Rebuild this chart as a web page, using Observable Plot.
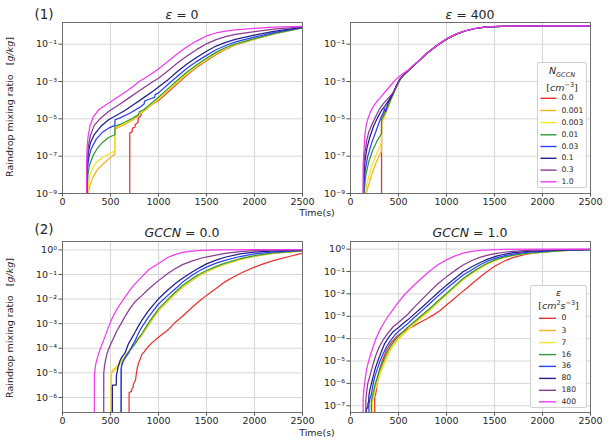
<!DOCTYPE html>
<html><head><meta charset="utf-8">
<script src="https://cdn.jsdelivr.net/npm/d3@7"></script>
<script src="https://cdn.jsdelivr.net/npm/@observablehq/plot@0.6"></script>
<style>
body{margin:0;background:#fff}
#root{position:relative;width:612px;height:447px;background:#fff;font-family:"DejaVu Sans",sans-serif;color:#262626;overflow:hidden}
.c{position:absolute;white-space:nowrap;transform:translate(-50%,-50%);line-height:1}
.yl{position:absolute;white-space:nowrap;transform:translate(-50%,-50%) rotate(-90deg);font-size:9.5px;line-height:1}
.leg{position:absolute;background:rgba(255,255,255,0.85);border:1px solid #d0d0d0;border-radius:2px;box-sizing:border-box}
.ent{position:absolute;font-size:7.6px;line-height:1;white-space:nowrap}
</style></head>
<body><div id="root"></div>
<script>
// ---- categories / labels ----
const N_GCCN = ["0.0","0.001","0.003","0.01","0.03","0.1","0.3","1.0"];
const EPS = ["0","3","7","16","36","80","180","400"];
const COLORS = ["#e8312c","#f2b51c","#eee42a","#31993a","#2f3ff2","#20208c","#8c3a92","#f03cef"];
const X_TICKS = [0,500,1000,1500,2000,2500];
const Y_TICKS_TOP = [1e-9,1e-7,1e-5,1e-3,1e-1];
const Y_TICKS_BL = [1e-6,1e-5,1e-4,1e-3,1e-2,1e-1,1];
const Y_TICKS_BR = [1e-7,1e-6,1e-5,1e-4,1e-3,1e-2,1e-1,1];

// ---- series: [time (s), log10 raindrop mixing ratio (g/kg)] ----
// Panel (1) eps = 0, by N_GCCN
const e0_n00 = [[700,-10],[701,-5.75],[725,-5.7],[728,-5.5],[755,-5.45],[758,-5.3],[785,-5.2],[790,-4.95],[815,-4.85],[830,-4.6],[870,-4.45],[920,-4.25],[1000,-4.02],[1100,-3.56],[1200,-3.1],[1300,-2.64],[1400,-2.23],[1500,-1.88],[1600,-1.55],[1700,-1.27],[1800,-1.04],[2000,-0.73],[2200,-0.45],[2500,-0.12]];
const e0_n001 = [[265,-10],[268,-9.0],[290,-8.5],[315,-8.15],[360,-7.75],[420,-7.43],[480,-7.15],[545,-6.9],[547,-5.55],[600,-5.42],[650,-5.3],[700,-5.15],[750,-5.0],[800,-4.78],[900,-4.38],[1000,-3.97],[1100,-3.5],[1200,-3.04],[1300,-2.6],[1400,-2.2],[1500,-1.85],[1600,-1.52],[1700,-1.25],[1800,-1.03],[2000,-0.73],[2200,-0.45],[2500,-0.12]];
const e0_n003 = [[262,-10],[264,-8.9],[280,-8.1],[315,-7.6],[360,-7.3],[420,-7.07],[480,-6.9],[545,-6.71],[547,-5.46],[600,-5.35],[700,-5.1],[800,-4.72],[900,-4.33],[1000,-3.93],[1100,-3.46],[1200,-3.0],[1300,-2.56],[1400,-2.17],[1500,-1.82],[1600,-1.5],[1700,-1.23],[1800,-1.01],[2000,-0.72],[2200,-0.44],[2500,-0.12]];
const e0_n01 = [[256,-10],[258,-8.6],[265,-8.0],[280,-7.5],[315,-7.0],[360,-6.6],[420,-6.25],[480,-6.0],[545,-5.85],[547,-5.4],[600,-5.3],[700,-5.05],[750,-4.9],[790,-4.8],[800,-4.62],[850,-4.5],[900,-4.28],[1000,-3.84],[1100,-3.38],[1200,-2.92],[1300,-2.48],[1400,-2.1],[1500,-1.75],[1600,-1.44],[1700,-1.18],[1800,-0.98],[2000,-0.7],[2200,-0.43],[2500,-0.12]];
const e0_n03 = [[254,-10],[256,-8.2],[262,-7.6],[275,-7.05],[300,-6.6],[350,-6.1],[420,-5.7],[480,-5.5],[545,-5.35],[547,-5.05],[600,-4.95],[700,-4.7],[800,-4.4],[850,-4.2],[855,-4.05],[900,-3.95],[960,-3.85],[965,-3.7],[1000,-3.61],[1100,-3.15],[1200,-2.7],[1300,-2.28],[1400,-1.92],[1500,-1.6],[1600,-1.3],[1700,-1.07],[1800,-0.88],[2000,-0.62],[2200,-0.38],[2500,-0.11]];
const e0_n1 = [[253,-10],[255,-7.9],[260,-7.3],[270,-6.8],[290,-6.3],[330,-5.85],[400,-5.4],[480,-5.05],[550,-4.85],[650,-4.55],[750,-4.2],[850,-3.85],[950,-3.5],[1000,-3.3],[1100,-2.9],[1200,-2.45],[1300,-2.05],[1400,-1.7],[1500,-1.38],[1600,-1.1],[1700,-0.9],[1800,-0.74],[2000,-0.52],[2200,-0.32],[2500,-0.1]];
const e0_n3 = [[252,-10],[254,-7.6],[260,-7.0],[270,-6.45],[290,-5.9],[330,-5.35],[400,-4.95],[490,-4.57],[600,-4.2],[700,-3.85],[800,-3.5],[900,-3.15],[1000,-2.83],[1100,-2.42],[1200,-2.0],[1300,-1.62],[1400,-1.28],[1500,-0.98],[1600,-0.76],[1700,-0.6],[1800,-0.48],[2000,-0.33],[2200,-0.2],[2500,-0.07]];
const e0_n10 = [[250,-10],[252,-7.3],[256,-6.6],[265,-6.0],[285,-5.4],[320,-4.9],[380,-4.5],[490,-4.13],[600,-3.75],[700,-3.4],[800,-3.0],[900,-2.68],[1000,-2.33],[1100,-1.92],[1200,-1.5],[1300,-1.12],[1400,-0.82],[1500,-0.56],[1600,-0.4],[1700,-0.3],[1800,-0.23],[2000,-0.15],[2200,-0.09],[2500,-0.04]];

// Panel (1) eps = 400, by N_GCCN
const e400_n00 = [[323,-10],[324,-5.05],[340,-4.85],[355,-4.55],[365,-4.6],[375,-4.35],[395,-4.3],[405,-4.05],[430,-3.8],[470,-3.35],[510,-2.9],[560,-2.62],[600,-2.42],[700,-1.95],[800,-1.47],[900,-1.07],[1000,-0.73],[1100,-0.46],[1200,-0.28],[1300,-0.16],[1400,-0.09],[1500,-0.06],[1700,-0.03],[2000,-0.02],[2500,-0.02]];
const e400_n001 = [[143,-10],[150,-9.3],[180,-8.7],[220,-8.0],[270,-7.3],[322,-6.75],[324,-5.2],[350,-4.95],[375,-4.6],[400,-4.28],[440,-3.78],[480,-3.27],[520,-2.86],[560,-2.62],[600,-2.42],[700,-1.95],[800,-1.47],[900,-1.07],[1000,-0.73],[1100,-0.46],[1200,-0.28],[1300,-0.16],[1400,-0.09],[1500,-0.06],[1700,-0.03],[2000,-0.02],[2500,-0.02]];
const e400_n003 = [[140,-10],[146,-9.2],[170,-8.5],[210,-7.7],[260,-7.0],[322,-6.3],[324,-5.15],[350,-4.9],[375,-4.55],[400,-4.25],[440,-3.75],[480,-3.25],[520,-2.85],[560,-2.62],[600,-2.42],[700,-1.95],[800,-1.47],[900,-1.07],[1000,-0.73],[1100,-0.46],[1200,-0.28],[1300,-0.16],[1400,-0.09],[1500,-0.06],[1700,-0.03],[2000,-0.02],[2500,-0.02]];
const e400_n01 = [[137,-10],[142,-8.9],[160,-8.0],[190,-7.3],[230,-6.7],[280,-6.15],[322,-5.8],[324,-5.05],[345,-4.85],[370,-4.55],[400,-4.2],[440,-3.7],[480,-3.25],[520,-2.85],[560,-2.62],[600,-2.42],[700,-1.95],[800,-1.47],[900,-1.07],[1000,-0.73],[1100,-0.46],[1200,-0.28],[1300,-0.16],[1400,-0.09],[1500,-0.06],[1700,-0.03],[2000,-0.02],[2500,-0.02]];
const e400_n03 = [[135,-10],[139,-8.6],[155,-7.7],[180,-7.0],[220,-6.3],[270,-5.6],[323,-4.85],[340,-4.7],[355,-4.45],[370,-4.6],[385,-4.25],[400,-4.05],[430,-3.8],[470,-3.35],[510,-2.9],[560,-2.62],[600,-2.42],[700,-1.95],[800,-1.47],[900,-1.07],[1000,-0.73],[1100,-0.46],[1200,-0.28],[1300,-0.16],[1400,-0.09],[1500,-0.06],[1700,-0.03],[2000,-0.02],[2500,-0.02]];
const e400_n1 = [[134,-10],[137,-8.3],[150,-7.3],[170,-6.6],[200,-6.0],[240,-5.4],[280,-4.95],[323,-4.55],[360,-4.3],[400,-4.0],[440,-3.65],[480,-3.2],[520,-2.85],[560,-2.62],[600,-2.42],[700,-1.95],[800,-1.47],[900,-1.07],[1000,-0.73],[1100,-0.46],[1200,-0.28],[1300,-0.16],[1400,-0.09],[1500,-0.06],[1700,-0.03],[2000,-0.02],[2500,-0.02]];
const e400_n3 = [[133,-10],[136,-7.9],[145,-7.0],[166,-6.25],[190,-5.7],[219,-5.36],[260,-4.9],[305,-4.45],[340,-4.2],[375,-4.0],[410,-3.8],[444,-3.6],[480,-3.25],[520,-2.85],[560,-2.6],[600,-2.41],[700,-1.95],[800,-1.47],[900,-1.07],[1000,-0.73],[1100,-0.46],[1200,-0.28],[1300,-0.16],[1400,-0.09],[1500,-0.06],[1700,-0.03],[2000,-0.02],[2500,-0.02]];
const e400_n10 = [[130,-10],[132,-7.4],[139,-6.8],[149,-5.9],[165,-5.3],[184,-4.95],[210,-4.6],[236,-4.35],[270,-4.1],[305,-3.9],[340,-3.68],[375,-3.47],[420,-3.2],[479,-2.85],[540,-2.6],[600,-2.38],[700,-1.93],[800,-1.46],[900,-1.06],[1000,-0.72],[1100,-0.45],[1200,-0.27],[1300,-0.15],[1400,-0.08],[1500,-0.05],[1700,-0.03],[2000,-0.02],[2500,-0.02]];

// Panel (2) GCCN = 0.0, by eps
const g0_e0 = [[692,-10],[694,-5.8],[720,-5.75],[722,-5.65],[735,-5.6],[739,-5.45],[760,-5.3],[774,-4.9],[791,-4.6],[810,-4.45],[826,-4.25],[850,-4.15],[895,-3.92],[940,-3.75],[1000,-3.55],[1100,-3.25],[1173,-2.95],[1250,-2.7],[1346,-2.35],[1420,-2.1],[1500,-1.85],[1600,-1.57],[1693,-1.3],[1780,-1.1],[1866,-0.93],[2000,-0.7],[2100,-0.56],[2214,-0.42],[2350,-0.28],[2500,-0.14]];
const g0_e3 = [[508,-10],[510,-5.0],[540,-4.88],[570,-4.78],[610,-4.55],[650,-4.35],[700,-4.08],[756,-3.8],[826,-3.48],[900,-3.03],[1000,-2.48],[1100,-2.08],[1173,-1.8],[1250,-1.53],[1346,-1.25],[1420,-1.06],[1500,-0.9],[1600,-0.72],[1693,-0.58],[1850,-0.4],[2000,-0.26],[2200,-0.14],[2500,-0.05]];
const g0_e7 = [[505,-10],[507,-4.95],[530,-4.85],[560,-4.75],[600,-4.55],[650,-4.32],[700,-4.05],[756,-3.78],[826,-3.45],[900,-3.0],[1000,-2.45],[1100,-2.05],[1173,-1.77],[1250,-1.5],[1346,-1.22],[1420,-1.04],[1500,-0.88],[1600,-0.7],[1693,-0.56],[1850,-0.38],[2000,-0.25],[2200,-0.13],[2500,-0.04]];
const g0_e16 = [[612,-10],[614,-4.7],[652,-4.36],[700,-4.1],[756,-3.82],[790,-3.6],[826,-3.41],[900,-2.95],[1000,-2.4],[1100,-2.0],[1173,-1.72],[1250,-1.45],[1346,-1.18],[1420,-1.0],[1500,-0.84],[1600,-0.67],[1693,-0.54],[1850,-0.36],[2000,-0.23],[2200,-0.12],[2500,-0.04]];
const g0_e36 = [[608,-10],[610,-4.85],[620,-4.65],[635,-4.5],[660,-4.35],[687,-4.2],[720,-3.95],[756,-3.69],[790,-3.4],[826,-3.14],[900,-2.7],[1000,-2.2],[1100,-1.84],[1173,-1.59],[1250,-1.32],[1346,-1.04],[1420,-0.86],[1500,-0.7],[1600,-0.54],[1693,-0.43],[1850,-0.27],[2000,-0.16],[2200,-0.08],[2500,-0.02]];
const g0_e80 = [[518,-10],[520,-5.5],[560,-5.5],[562,-5.1],[580,-4.75],[600,-4.5],[618,-4.36],[650,-4.2],[687,-3.82],[720,-3.6],[756,-3.35],[790,-3.1],[826,-2.87],[900,-2.45],[1000,-1.99],[1100,-1.62],[1173,-1.38],[1250,-1.15],[1346,-0.91],[1420,-0.74],[1500,-0.57],[1600,-0.42],[1693,-0.3],[1850,-0.16],[2000,-0.09],[2200,-0.04],[2500,-0.01]];
const g0_e180 = [[428,-10],[430,-5.0],[438,-4.7],[450,-4.45],[465,-4.2],[479,-4.05],[500,-3.85],[530,-3.6],[566,-3.3],[610,-3.0],[652,-2.7],[700,-2.4],[750,-2.13],[826,-1.86],[900,-1.58],[1000,-1.25],[1100,-0.95],[1173,-0.77],[1250,-0.6],[1346,-0.46],[1450,-0.33],[1520,-0.27],[1600,-0.21],[1693,-0.14],[1850,-0.07],[2000,-0.03],[2200,-0.01],[2500,0]];
const g0_e400 = [[330,-10],[332,-5.18],[335,-4.97],[347,-4.63],[375,-4.23],[400,-3.95],[427,-3.69],[479,-3.14],[520,-2.75],[566,-2.42],[610,-2.15],[652,-1.92],[700,-1.65],[750,-1.4],[826,-1.1],[900,-0.8],[1000,-0.55],[1100,-0.3],[1173,-0.19],[1250,-0.1],[1346,-0.05],[1450,-0.02],[1600,0],[2000,0.01],[2500,0.01]];

// Panel (2) GCCN = 1.0, by eps
const g1_e0 = [[250,-10],[253,-6.6],[264,-6.44],[288,-5.7],[305,-5.35],[323,-5.1],[350,-4.78],[375,-4.51],[420,-4.2],[479,-3.91],[530,-3.75],[583,-3.6],[650,-3.45],[722,-3.28],[800,-3.1],[861,-2.95],[930,-2.75],[1000,-2.5],[1070,-2.25],[1138,-2.0],[1210,-1.75],[1277,-1.5],[1350,-1.25],[1416,-1.02],[1490,-0.8],[1555,-0.64],[1620,-0.5],[1693,-0.38],[1800,-0.26],[1901,-0.18],[2000,-0.13],[2110,-0.09],[2300,-0.05],[2500,-0.03]];
const g1_e3 = [[220,-10],[222,-6.85],[240,-6.5],[260,-6.15],[285,-5.78],[312,-5.42],[340,-5.15],[375,-4.8],[409,-4.52],[450,-4.25],[496,-4.0],[550,-3.78],[600,-3.58],[652,-3.35],[740,-3.02],[826,-2.7],[910,-2.36],[1000,-2.02],[1090,-1.67],[1173,-1.35],[1260,-1.08],[1346,-0.85],[1430,-0.64],[1520,-0.48],[1600,-0.37],[1693,-0.28],[1850,-0.18],[2000,-0.13],[2200,-0.07],[2500,-0.02]];
const g1_e7 = [[225,-10],[227,-6.9],[243,-6.6],[265,-6.2],[288,-5.85],[315,-5.52],[340,-5.25],[375,-4.9],[409,-4.58],[450,-4.3],[496,-4.06],[550,-3.82],[600,-3.62],[652,-3.39],[740,-3.07],[826,-2.75],[910,-2.4],[1000,-2.05],[1090,-1.7],[1173,-1.38],[1260,-1.1],[1346,-0.88],[1430,-0.66],[1520,-0.49],[1600,-0.38],[1693,-0.28],[1850,-0.19],[2000,-0.13],[2200,-0.07],[2500,-0.02]];
const g1_e16 = [[215,-10],[217,-6.8],[236,-6.44],[253,-6.1],[271,-5.85],[295,-5.5],[323,-5.18],[355,-4.85],[392,-4.51],[435,-4.22],[479,-3.99],[530,-3.76],[583,-3.54],[652,-3.29],[740,-2.97],[826,-2.65],[910,-2.32],[1000,-1.98],[1090,-1.63],[1173,-1.31],[1260,-1.05],[1346,-0.82],[1430,-0.62],[1520,-0.46],[1600,-0.36],[1693,-0.27],[1850,-0.18],[2000,-0.13],[2200,-0.07],[2500,-0.02]];
const g1_e36 = [[190,-10],[192,-6.9],[202,-6.7],[210,-6.6],[219,-6.44],[235,-6.05],[253,-5.7],[280,-5.35],[305,-5.03],[340,-4.68],[375,-4.36],[415,-4.1],[461,-3.84],[510,-3.64],[566,-3.44],[610,-3.28],[652,-3.1],[740,-2.77],[826,-2.43],[910,-2.1],[1000,-1.76],[1090,-1.45],[1173,-1.16],[1260,-0.93],[1346,-0.71],[1430,-0.53],[1520,-0.39],[1600,-0.3],[1693,-0.22],[1850,-0.14],[2000,-0.1],[2200,-0.05],[2500,-0.02]];
const g1_e80 = [[165,-10],[166,-7.1],[180,-7.1],[182,-6.9],[190,-6.8],[192,-6.55],[201,-6.3],[236,-5.7],[260,-5.3],[288,-4.96],[320,-4.6],[357,-4.21],[400,-3.93],[444,-3.69],[500,-3.5],[548,-3.32],[600,-3.15],[652,-2.95],[740,-2.62],[826,-2.28],[910,-1.95],[1000,-1.61],[1090,-1.3],[1173,-1.01],[1260,-0.8],[1346,-0.61],[1430,-0.45],[1520,-0.31],[1600,-0.23],[1693,-0.16],[1850,-0.1],[2000,-0.07],[2200,-0.04],[2500,-0.02]];
const g1_e180 = [[158,-10],[160,-6.7],[167,-6.44],[180,-6.0],[200,-5.7],[219,-5.4],[245,-5.0],[271,-4.66],[305,-4.32],[340,-4.06],[390,-3.75],[444,-3.47],[500,-3.28],[548,-3.1],[600,-2.9],[652,-2.65],[740,-2.27],[826,-1.9],[910,-1.55],[1000,-1.24],[1090,-0.95],[1173,-0.71],[1260,-0.52],[1346,-0.37],[1430,-0.27],[1520,-0.19],[1600,-0.14],[1693,-0.1],[1850,-0.06],[2000,-0.04],[2200,-0.02],[2500,-0.01]];
const g1_e400 = [[130,-10],[132,-6.7],[139,-6.3],[150,-5.9],[160,-5.6],[172,-5.3],[184,-5.08],[210,-4.7],[236,-4.36],[270,-3.95],[305,-3.62],[350,-3.28],[392,-3.0],[435,-2.75],[479,-2.48],[560,-2.05],[652,-1.65],[740,-1.3],[826,-0.98],[910,-0.7],[1000,-0.48],[1090,-0.3],[1173,-0.18],[1260,-0.1],[1346,-0.06],[1450,-0.03],[1600,-0.01],[2000,0],[2500,0]];

const panelA = [e0_n00,e0_n001,e0_n003,e0_n01,e0_n03,e0_n1,e0_n3,e0_n10];
const panelB = [e400_n00,e400_n001,e400_n003,e400_n01,e400_n03,e400_n1,e400_n3,e400_n10];
const panelC = [g0_e0,g0_e3,g0_e7,g0_e16,g0_e36,g0_e80,g0_e180,g0_e400];
const panelD = [g1_e0,g1_e3,g1_e7,g1_e16,g1_e36,g1_e80,g1_e180,g1_e400];

// ---- drawing ----
const root = document.getElementById("root");
const SUP = {"-":"\u207B","0":"\u2070","1":"\u00B9","2":"\u00B2","3":"\u00B3","4":"\u2074","5":"\u2075","6":"\u2076","7":"\u2077","8":"\u2078","9":"\u2079"};
const supFmt = d => "10" + String(Math.round(Math.log10(d))).split("").map(c => SUP[c]).join("");

function toRows(list, names) {
  return list.flatMap((arr, i) => arr.map(([t, e]) => ({t, v: Math.pow(10, e), s: names[i]})));
}

function panel(list, names, left, top, mL, mT, yDomain, yTicks) {
  const W = 306, H = 212, FW = 240, FH = 171;
  const chart = Plot.plot({
    width: W, height: H,
    marginLeft: mL, marginRight: W - mL - FW, marginTop: mT, marginBottom: H - mT - FH,
    style: {fontFamily: "DejaVu Sans, sans-serif", fontSize: "9.5px", color: "#262626", background: "transparent", overflow: "visible"},
    x: {domain: [0, 2500]},
    y: {type: "log", domain: yDomain},
    color: {domain: names, range: COLORS},
    marks: [
      Plot.gridX(X_TICKS, {stroke: "#d6d6d6", strokeOpacity: 1, strokeWidth: 1}),
      Plot.gridY(yTicks, {stroke: "#d6d6d6", strokeOpacity: 1, strokeWidth: 1}),
      Plot.line(toRows(list, names), {x: "t", y: "v", z: "s", stroke: "s", strokeWidth: 1.25, clip: true}),
      Plot.frame({stroke: "#6e6e6e", strokeWidth: 1}),
      Plot.axisX(X_TICKS, {tickSize: 3.5, tickPadding: 1.5, tickFormat: d => String(d), label: null, stroke: "#555"}),
      Plot.axisY(yTicks, {tickSize: 3.5, tickPadding: 2, tickFormat: supFmt, label: null, stroke: "#555"})
    ]
  });
  chart.style.position = "absolute";
  chart.style.left = left + "px";
  chart.style.top = top + "px";
  root.appendChild(chart);
}

panel(panelA, N_GCCN, 0, 0, 62, 22, [1e-9, 1.45], Y_TICKS_TOP);
panel(panelB, N_GCCN, 300, 0, 50, 22, [1e-9, 1.45], Y_TICKS_TOP);
panel(panelC, EPS, 0, 220, 62, 21, [2.45e-7, 2.19], Y_TICKS_BL);
panel(panelD, EPS, 300, 220, 50, 21, [5.0e-8, 2.19], Y_TICKS_BR);

function text(html, x, y, size) {
  const d = document.createElement("div");
  d.className = "c";
  d.style.left = x + "px"; d.style.top = y + "px";
  d.style.fontSize = size + "px";
  d.innerHTML = html;
  root.appendChild(d);
}
text("(1)", 44, 15, 13.5);
text("(2)", 44, 230, 13.5);
text("<i>\u03B5</i> = 0", 182, 15, 12.5);
text("<i>\u03B5</i> = 400", 470, 15, 12.5);
text("<i>GCCN</i> = 0.0", 182, 233, 12.5);
text("<i>GCCN</i> = 1.0", 470, 233, 12.5);
text("Time(s)", 317, 213, 9.5);
text("Time(s)", 317, 433, 9.5);

function ylab(y) {
  const d = document.createElement("div");
  d.className = "yl";
  d.style.left = "10px"; d.style.top = y + "px";
  d.innerHTML = "Raindrop mixing ratio &nbsp;&nbsp;[<i>g/kg</i>]";
  root.appendChild(d);
}
ylab(107); ylab(328);

const NS = "http://www.w3.org/2000/svg";
function legend(box, t1, t1y, t2, t2y, names, ys, lineX0, lineX1, textX) {
  const b = document.createElement("div");
  b.className = "leg";
  b.style.left = box[0] + "px"; b.style.top = box[1] + "px";
  b.style.width = (box[2] - box[0]) + "px"; b.style.height = (box[3] - box[1]) + "px";
  root.appendChild(b);
  const cx = (box[0] + box[2]) / 2;
  text(t1, cx, t1y, 9.5);
  text(t2, cx, t2y, 9.5);
  const svg = document.createElementNS(NS, "svg");
  svg.setAttribute("width", 612); svg.setAttribute("height", 447);
  svg.style.position = "absolute"; svg.style.left = "0px"; svg.style.top = "0px";
  names.forEach((n, i) => {
    const l = document.createElementNS(NS, "line");
    l.setAttribute("x1", lineX0); l.setAttribute("x2", lineX1);
    l.setAttribute("y1", ys[i]); l.setAttribute("y2", ys[i]);
    l.setAttribute("stroke", COLORS[i]); l.setAttribute("stroke-width", 1.4);
    svg.appendChild(l);
    const t = document.createElement("div");
    t.className = "ent";
    t.style.left = textX + "px"; t.style.top = (ys[i] - 4) + "px";
    t.textContent = n;
    root.appendChild(t);
  });
  root.appendChild(svg);
}
legend([537, 62, 587, 188], "<i>N<sub style='font-size:6.5px'>GCCN</sub></i>", 72, "[<i>cm</i><sup style='font-size:6.5px'>\u22123</sup>]", 87,
  N_GCCN, [98.3,110.5,122.6,134.8,146.5,158.3,170.1,181.8], 540.5, 556.5, 561.5);
legend([530, 285, 587, 408], "<i>\u03B5</i>", 292.5, "[<i>cm</i><sup style='font-size:6.5px'>2</sup><i>s</i><sup style='font-size:6.5px'>\u22123</sup>]", 305,
  EPS, [318.3,330.5,342.6,354.6,366.4,378.4,390.3,401.8], 539, 556, 561.5);
</script></body></html>
